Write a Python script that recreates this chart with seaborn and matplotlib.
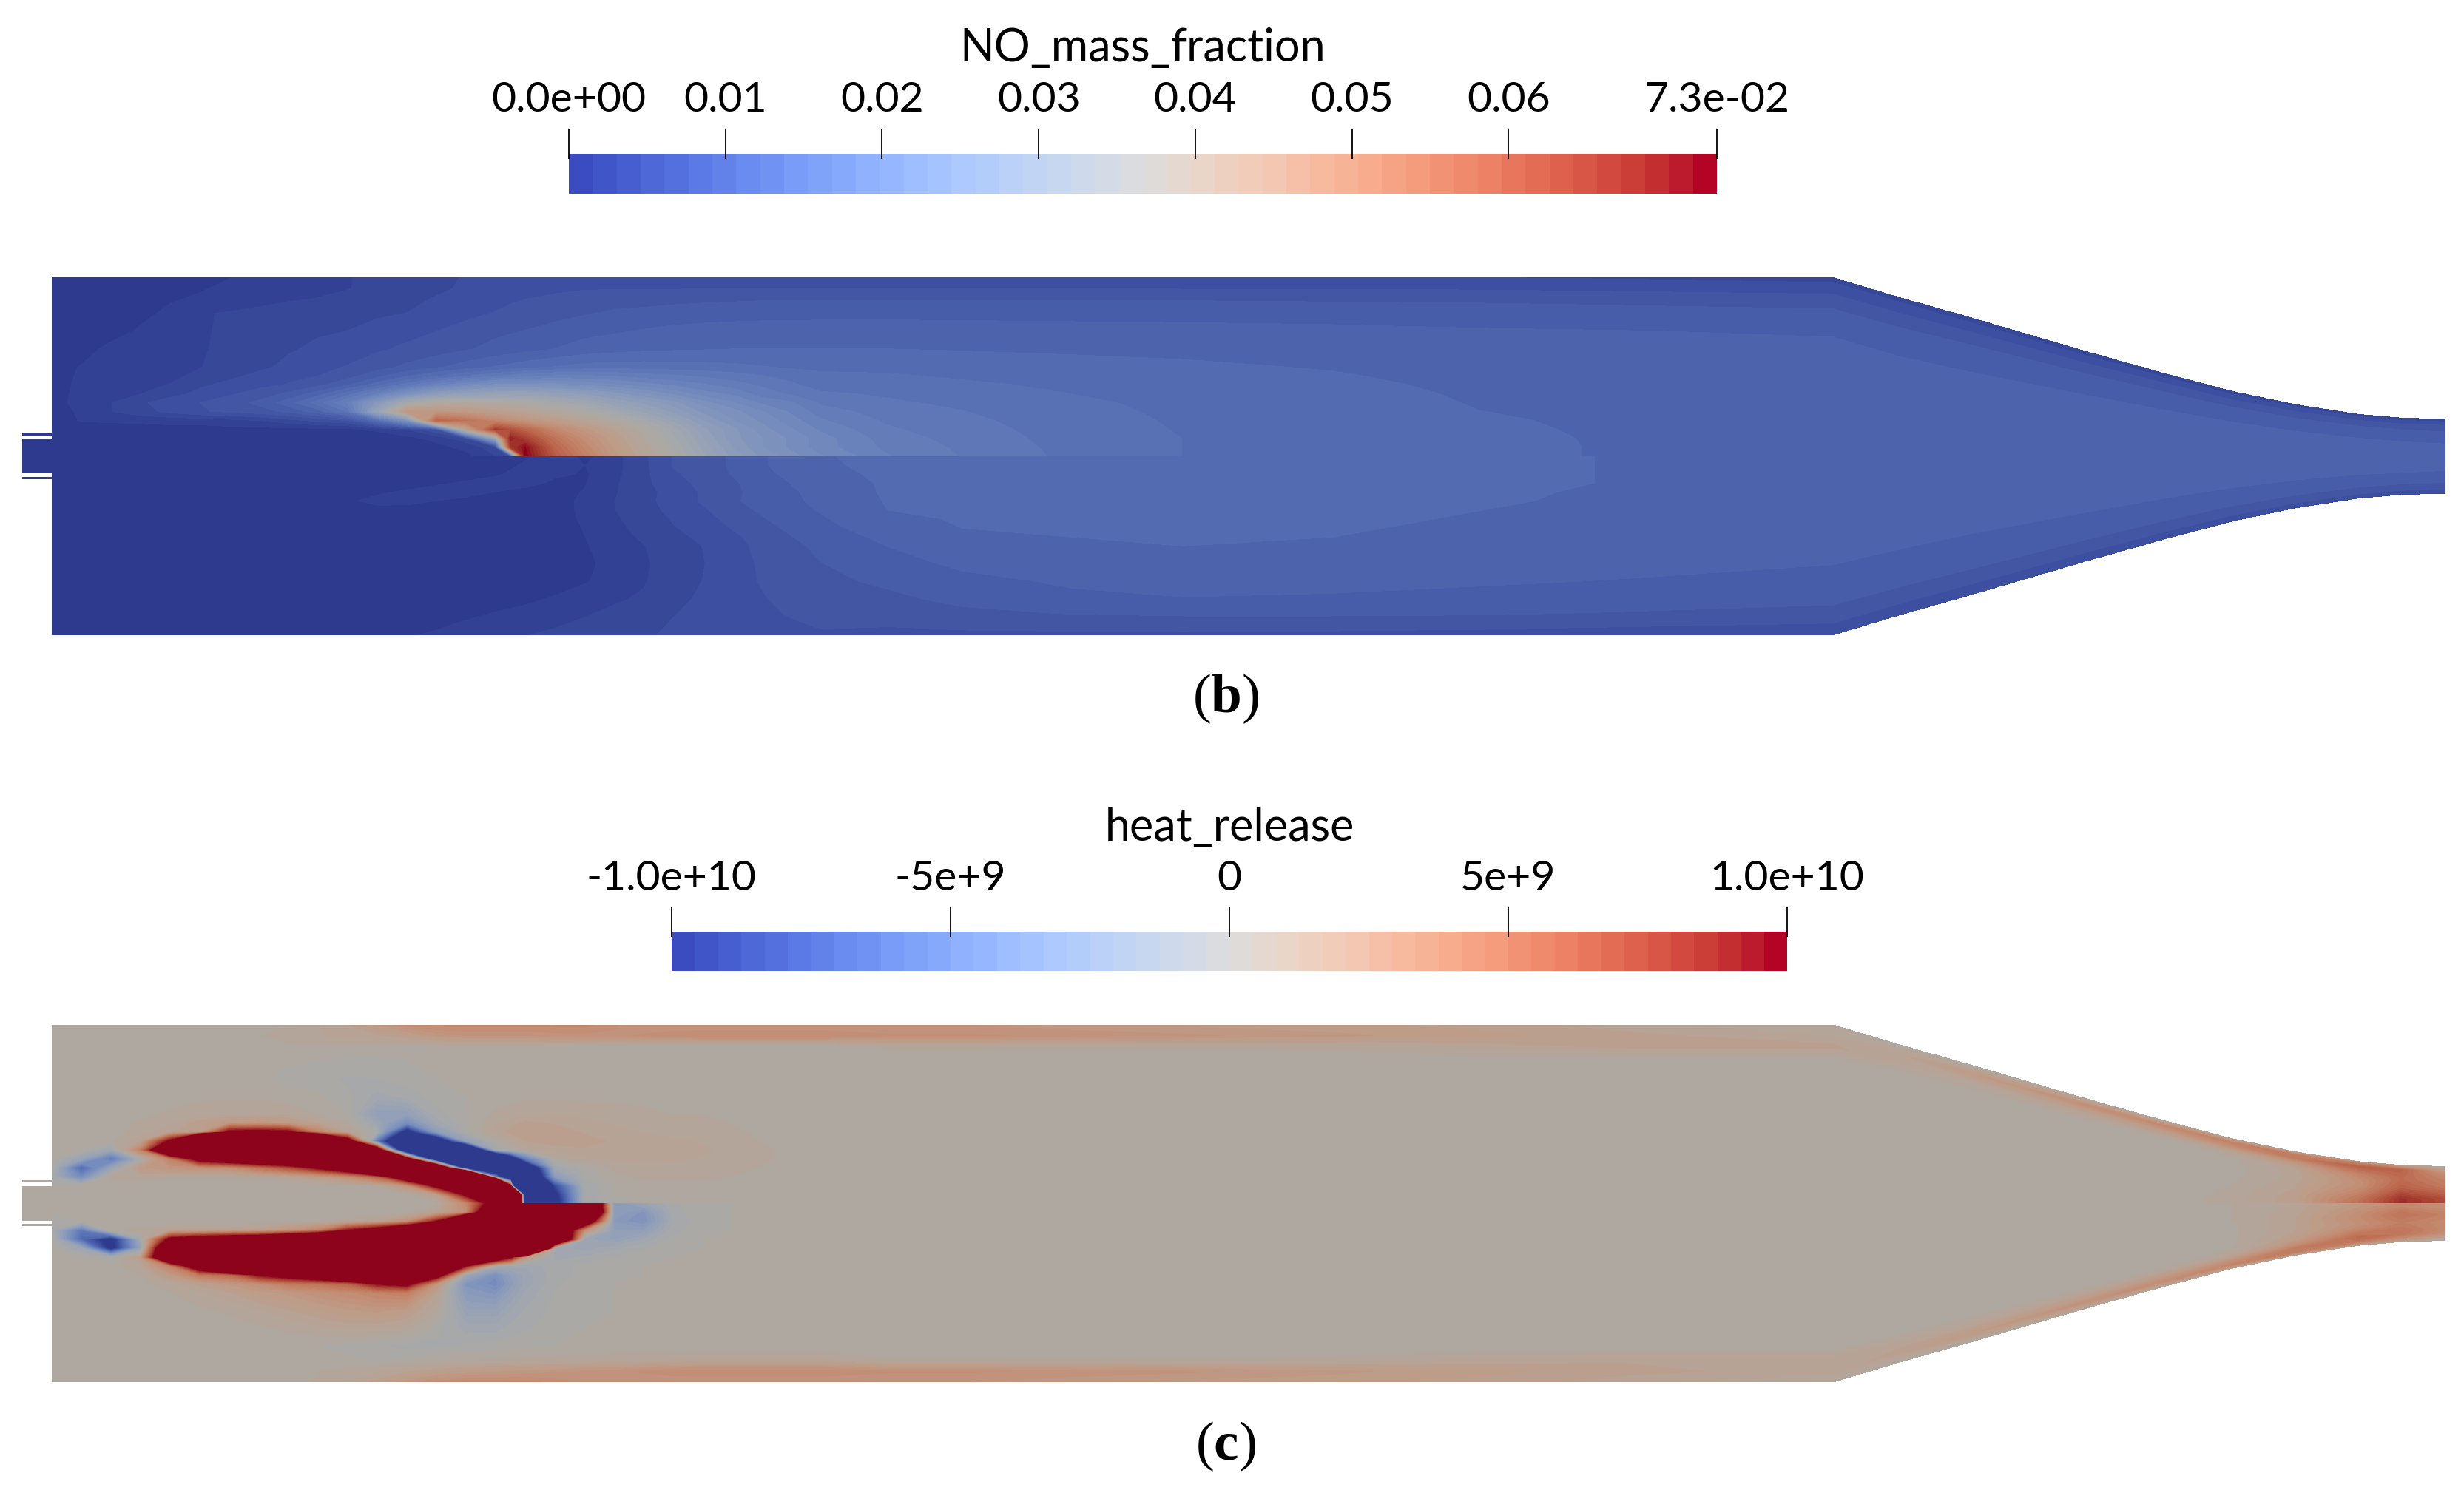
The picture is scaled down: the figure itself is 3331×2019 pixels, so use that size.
import numpy as np
import matplotlib
matplotlib.use('Agg')
import matplotlib.pyplot as plt
import seaborn as sns
from matplotlib.colors import ListedColormap

# stations along the burner (image pixels) and fraction of local half height
NEAR_X = [70, 110, 150, 190, 230, 270, 310, 350, 390, 430, 470, 510, 550, 590,
          630, 670, 690, 710, 750, 790, 830, 870, 910, 950, 990, 1030, 1070, 1110]
FAR_X = [1200, 1300, 1450, 1600, 1800, 2000, 2200, 2478, 2570, 2662, 2820, 2921,
         3015, 3102, 3188, 3246, 3305]
ETA = [0, .05, .10, .15, .20, .25, .30, .35, .40, .45, .50, .60, .70, .80, .88, .94, 1.0]

# wall half height
WALL_X = [70, 2478, 2570, 2662, 2820, 2921, 3015, 3102, 3188, 3246, 3305]
WALL_H = [241.5, 241.5, 214, 188, 141.7, 113.3, 88.3, 70, 56.7, 51.7, 50]

# NO mass fraction x 1e3, upper half, centre line to wall
NO_TOP_NEAR = [
    [0,0,0,0,0,0,0,0,0,0,0,0,0,0,1,3,5,73,60,52,45,40,36,31,27,24,22,20],
    [0,0,0,0,0,0,0,0,0,0,0,0,0,1,2,4,66,72,58,50,44,39,35,30,26,23,21,19],
    [0,0,0,0,0,0,0,0,0,0,0,0,1,2,4,30,70,65,55,48,43,38,34,29,25,23,21,19],
    [0,1,1,1,1,1,1,1,1,1,1,2,3,6,40,66,62,58,50,45,41,37,33,28,25,22,20,18],
    [1,1.6,1.7,1.8,2,2,2.5,3,4,5,6,12,22,58,55,50,48,46,43,40,37,34,30,26,23,21,19,17],
    [1,1.7,3,4,5,6,6.3,7,8,10,14,30,45,45,44,42,41,40,38,36,33,30,27,24,22,20,18,16],
    [1,2,3,4.3,5.4,6.1,7,8,10,13,17,25,34,37,38,37,36.5,36,34,32,29,27,25,22,20,18,17,15],
    [1,1.9,2.5,3,4,5,5.9,6.7,8,10,13,17,22,26,28,29,29,29,28,27,25,23,21,19,18,16,15,14],
    [1,1.8,2.3,2.8,3.1,4.3,5,5.7,6.2,7.2,9,11.5,14.5,17.5,20,21.7,22,22,22,21,20,19,18,17,16,15,14,13],
    [1,1.7,2.1,2.4,2.8,3.3,4.2,5,5.8,6.1,7,8.7,10.5,12,13.6,15,15.7,16.3,17,17,16.7,16,15.5,15,14.4,13.8,13.2,12.6],
    [1,1.6,2,2.3,2.7,3,3.6,4.2,5,5.7,6.2,7,8,8.9,9.9,10.8,11.2,11.6,12.3,12.8,13,13,12.9,12.8,12.6,12.3,12,11.8],
    [.5,1,1.9,2.2,2.5,2.9,3.4,3.9,4.4,4.9,5.4,5.9,6.4,6.9,7.5,8.1,8.4,8.7,9.2,9.8,10.1,10.4,10.5,10.6,10.7,10.7,10.7,10.7],
    [0,.3,1,1.7,2.3,2.8,3.4,3.8,4.1,4.4,4.6,5,5.6,6.1,6.7,7.3,7.5,7.7,8.2,8.7,9,9.3,9.6,9.7,9.8,9.8,9.8,9.8],
    [0,.2,.6,1.2,1.8,2.9,3.2,3.5,3.8,4,4.2,4.4,4.6,5.2,5.7,6.2,6.5,6.7,7.1,7.5,7.9,8.1,8.3,8.5,8.6,8.7,8.7,8.8],
    [0,0,.6,1,1.4,1.7,2.1,2.5,2.9,3.1,3.4,3.8,4.2,4.7,5.1,5.6,5.9,6.1,6.4,6.7,6.9,7,7.2,7.3,7.4,7.5,7.5,7.5],
    [0,0,.4,.8,1.1,1.4,1.8,2.2,2.5,2.8,3,3.4,3.9,4.3,4.8,5.2,5.4,5.5,5.8,6,6,6,6,6.1,6.1,6.1,6.1,6.1],
    [0,0,0,.5,.8,1.1,1.5,2,2.3,2.7,3,3.3,3.7,4.2,4.7,4.9,5,5,5,5,5,5,5,5,5,5,5,5],
]
NO_TOP_FAR = [
    [16.9,15.2,13.3,12.2,11.6,11,10.55,10.2,10.1,10,10,10,10,10,10,9.8,9.6],
    [16.4,15,13.2,12.2,11.6,11,10.55,10.2,10.1,10,10,10,10,10,10,9.8,9.6],
    [16,14.7,13.1,12.2,11.6,10.95,10.55,10.2,10.1,10,10,10,10,10,10,9.8,9.6],
    [15.5,14.4,13,12.1,11.5,10.9,10.5,10.2,10.1,10,10,10,10,10,10,9.8,9.5],
    [15,14.1,12.9,12,11.5,10.8,10.5,10.2,10.1,10,10,10,10,10,9.9,9.7,9.5],
    [14.5,13.8,12.7,11.9,11.4,10.7,10.5,10.1,10,10,10,10,10,9.9,9.8,9.6,9.4],
    [14,13.4,12.5,11.8,11.3,10.6,10.4,10.1,10,10,10,10,9.9,9.8,9.7,9.5,9.3],
    [13.5,13,12.2,11.6,11.2,10.5,10.3,10,10,10,10,10,9.8,9.7,9.5,9.3,9.1],
    [13,12.5,11.9,11.3,11,10.4,10.2,10,9.9,9.9,9.8,9.8,9.7,9.5,9.3,9.1,8.9],
    [12.4,12,11.5,11.1,10.8,10.3,10.1,9.8,9.8,9.7,9.7,9.6,9.5,9.3,9.1,8.9,8.7],
    [11.8,11.5,11.1,10.9,10.6,10.2,10,9.7,9.6,9.5,9.5,9.4,9.3,9.1,8.9,8.7,8.5],
    [10.7,10.6,10.5,10.4,10.2,10,9.8,9.5,9.3,9.2,9.1,9,8.8,8.6,8.4,8.2,8],
    [9.8,9.7,9.7,9.6,9.5,9.3,9.2,9,8.8,8.7,8.5,8.4,8.2,8,7.8,7.6,7.4],
    [8.8,8.8,8.7,8.7,8.6,8.5,8.3,8,7.8,7.7,7.5,7.4,7.2,7,6.9,6.8,6.6],
    [7.5,7.5,7.5,7.5,7.4,7.3,7.1,6.8,6.6,6.5,6.3,6.2,6,5.9,5.8,5.7,5.5],
    [6.1,6.1,6.1,6,6,5.9,5.7,5.3,5.2,5.1,5,4.9,4.8,4.8,4.7,4.6,4.5],
    [5,5,4.9,4.8,4.7,4.6,4.4,4,4,3.9,3.8,3.8,3.7,3.7,3.6,3.6,3.5],
]
# NO mass fraction x 1e3, lower half
NO_BOT_NEAR = [
    [0,0,0,0,0,0,0,0,0,0,0,0,0,0,0,0,.5,1,3,1,2.5,4.3,6.2,7,7.8,9,9.8,10.6],
    [0,0,0,0,0,0,0,0,0,0,0,0,0,0,0,0,1,2,3,1.5,2.5,4.2,6.2,7,7.8,9,9.8,10.5],
    [0,0,0,0,0,0,0,0,0,0,0,0,0,0,0,1,2,3,2,1.3,2.6,4.2,5.8,7,7.7,8.8,9.5,10.2],
    [0,0,0,0,0,0,0,0,0,0,0,0,0,1,2,3,2.8,2.5,1,1.4,2.8,4.2,5.5,6.5,7.4,8.4,9.2,9.9],
    [0,0,0,0,0,0,0,0,0,0,0,1,2,3,2.5,1.5,1,.5,1,1.6,2.9,4,5.2,6.3,7.3,8.2,9,9.6],
    [0,0,0,0,0,0,0,0,0,.5,1,2.5,2.5,1.5,.8,.3,.3,.3,1,1.8,3,4.1,5.2,6.3,7.4,8.2,8.9,9.5],
    [0,0,0,0,0,0,0,0,.5,1,.8,.5,.3,.2,.2,.2,.2,.3,1,1.8,3,4,5,5.9,7,7.9,8.7,9.3],
    [0,0,0,0,0,0,0,0,0,0,0,0,0,0,0,0,0,0,1,1.7,2.8,3.8,4.7,5.4,6.7,7.5,8.3,9],
    [0,0,0,0,0,0,0,0,0,0,0,0,0,0,0,0,0,0,.9,1.6,2.6,3.6,4.5,5.1,6.2,7.1,8,8.7],
    [0,0,0,0,0,0,0,0,0,0,0,0,0,0,0,0,0,0,.8,1.5,2.4,3.3,4.3,4.8,5.8,6.7,7.6,8.3],
    [0,0,0,0,0,0,0,0,0,0,0,0,0,0,0,0,0,0,.7,1.4,2.2,3,4.1,4.6,5.6,6.5,7.3,8],
    [0,0,0,0,0,0,0,0,0,0,0,0,0,0,0,0,0,0,.6,1.2,2,2.8,3.8,4.5,5.5,6.3,7,7.6],
    [0,0,0,0,0,0,0,0,0,0,0,0,0,0,0,0,.1,.2,.8,1.4,2.1,2.9,4,4.6,5.6,6.2,6.8,7.3],
    [0,0,0,0,0,0,0,0,0,0,0,0,0,0,.5,.9,1,1.2,1.7,2.2,2.8,3.3,4.2,4.8,5.5,6,6.5,7],
    [0,0,0,0,0,0,0,0,0,0,0,0,.4,.8,1.2,1.6,1.8,2,2.4,2.9,3.4,3.8,4.5,5,5.5,5.9,6.2,6.6],
    [0,0,0,0,0,0,0,0,0,0,0,.6,1,1.3,1.7,2,2.2,2.5,2.9,3.3,3.7,4.1,4.7,5.1,5.5,5.8,6,6.2],
    [0,0,0,0,0,0,0,0,0,0,.5,1,1.4,1.7,2.1,2.5,2.8,3,3.3,3.7,4,4.4,4.8,5.1,5.4,5.6,5.8,6],
]
NO_BOT_FAR = [
    [11,11.3,11.3,11.3,11.2,11,10.6,10.3,10.2,10.2,10.2,10.1,10.1,10.1,10.1,10,10],
    [11,11.3,11.3,11.3,11.2,11,10.6,10.3,10.2,10.2,10.2,10.1,10.1,10.1,10.1,10,10],
    [11,11.3,11.3,11.3,11.2,11,10.6,10.3,10.2,10.2,10.2,10.1,10.1,10.1,10.1,10,10],
    [10.9,11.2,11.3,11.3,11.2,11,10.6,10.3,10.2,10.2,10.1,10.1,10.1,10.1,10,10,9.9],
    [10.9,11.1,11.2,11.2,11.1,10.9,10.5,10.3,10.2,10.1,10.1,10.1,10,10,10,9.9,9.8],
    [10.8,11,11.1,11.2,11.1,10.8,10.5,10.2,10.1,10.1,10,10,10,9.9,9.8,9.8,9.7],
    [10.7,10.9,11,11.1,11,10.7,10.4,10.2,10.1,10,10,9.9,9.9,9.8,9.7,9.7,9.5],
    [10.4,10.8,10.9,11,10.9,10.6,10.3,10.1,10,10,9.9,9.8,9.7,9.6,9.5,9.5,9.3],
    [10,10.7,10.8,10.9,10.8,10.5,10.2,10,9.9,9.8,9.7,9.6,9.5,9.4,9.3,9.3,9.1],
    [9.6,10.5,10.7,10.8,10.7,10.3,10,9.8,9.7,9.6,9.5,9.4,9.3,9.2,9.1,9,8.9],
    [9.2,10.2,10.5,10.7,10.5,10.1,9.9,9.6,9.5,9.4,9.3,9.2,9.1,9,8.9,8.8,8.7],
    [8.5,9.5,9.9,10.1,10,9.8,9.5,9.2,9.1,9,8.9,8.8,8.7,8.5,8.4,8.3,8.2],
    [7.9,8.7,9.4,9.6,9.5,9.3,9.1,8.7,8.6,8.5,8.3,8.2,8.1,8,7.9,7.8,7.7],
    [7.3,8,8.8,9.1,9,8.8,8.5,8,7.9,7.8,7.6,7.5,7.4,7.3,7.2,7.1,7],
    [6.7,7.3,7.7,7.9,7.9,7.8,7.5,7.1,7,6.9,6.8,6.7,6.6,6.5,6.4,6.3,6.2],
    [6.3,6.6,6.7,6.8,6.8,6.7,6.4,6,5.9,5.8,5.7,5.6,5.6,5.5,5.4,5.4,5.3],
    [5.5,5.7,5.8,5.8,5.7,5.5,5.2,4.9,4.8,4.7,4.6,4.6,4.5,4.4,4.4,4.3,4.3],
]

# heat release x 1e-8, upper half (values past +-100 saturate)
HR_TOP_NEAR = [
    [0,0,0,0,0,0,0,0,0,0,0,0,0,2,35,130,800,-150,-120,-6,-1,0,0,0,0,0,0,0],
    [0,0,0,0,0,0,0,0,0,0,0,0,2,15,105,200,800,-200,-110,-8,0,2,2,2,2,0,0,0],
    [0,0,0,0,0,0,0,0,0,0,2,5,25,110,200,740,110,-1000,-90,-8,0,3,3,3,3,0,0,0],
    [-8,-45,8,8,5,5,5,5,10,18,30,60,149,200,600,-50,-200,-200,-30,-3,3,5,5,5,4,3,2,1],
    [0,-70,-20,20,25,28,30,50,70,103,150,300,200,258,-150,-200,-200,-170,-12,-2,5,7,7,6,5,4,3,2],
    [0,-20,-60,-5,40,120,145,161,178,200,200,200,137,-180,-200,-280,-150,-60,3,8,9,10,9,8,6,5,3,2],
    [0,0,-15,40,195,200,200,200,200,200,200,150,-200,-300,-233,-10,0,5,10,12,12,11,10,9,7,5,3,2],
    [0,0,3,12,105,400,200,200,200,317,133,-60,-200,-160,-25,0,6,12,15,14,12,10,9,8,6,4,3,2],
    [0,0,2,6,12,15,107,112,105,40,10,-5,-121,-30,-3,10,14,17,15,12,10,8,7,6,5,3,2,1],
    [0,0,2,5,8,15,22,25,20,12,4,-14,-45,-12,-1,8,11,14,12,10,8,7,6,5,4,3,2,1],
    [0,0,1,3,5,7,8,8,7,4,0,-25,-24,-6,0,5,6,8,8,7,6,5,4,4,3,2,1,1],
    [0,0,1,2,2,3,3,3,2,1,-3,-10,-7,-2,0,2,2,3,3,3,3,3,2,2,1,1,0,0],
    [0,0,1,2,3,3,2,1,-2,-3,-5,-4,-2,0,1,1,1,1,1,1,1,1,1,1,0,0,0,0],
    [0,0,0,1,2,3,3,2,1,0,-1,-1,0,0,1,1,1,1,0,0,0,0,0,0,0,0,0,0],
    [0,0,0,0,1,2,3,3,3,3,3,3,3,3,3,3,3,3,3,2,1,1,1,1,1,1,1,1],
    [0,0,0,0,0,0,2,4,6,8,10,12,15,22,25,25,25,25,27,28,28,30,32,33,33,33,33,33],
    [0,0,0,0,0,0,0,2,4,8,12,20,30,35,35,35,35,35,35,35,30,25,25,25,25,25,25,25],
]
HR_TOP_FAR = [
    [0,0,0,0,0,0,0,0,0,0,0,1,6,15,50,85,72],
    [0,0,0,0,0,0,0,0,0,0,0,1,6,15,50,85,72],
    [0,0,0,0,0,0,0,0,0,0,0,1,6,15,48,85,72],
    [0,0,0,0,0,0,0,0,0,0,0,1,5,15,45,82,70],
    [0,0,0,0,0,0,0,0,0,0,0,1,5,14,42,78,66],
    [0,0,0,0,0,0,0,0,0,0,0,1,4,13,38,74,62],
    [0,0,0,0,0,0,0,0,0,0,0,0,4,12,35,70,58],
    [0,0,0,0,0,0,0,0,0,0,0,0,3,12,33,66,54],
    [0,0,0,0,0,0,0,0,0,0,0,0,3,11,31,62,50],
    [0,0,0,0,0,0,0,0,0,0,0,0,2,10,30,60,47],
    [0,0,0,0,0,0,0,0,0,0,0,0,2,10,30,58,45],
    [0,0,0,0,0,0,0,0,0,0,0,0,2,10,32,55,42],
    [0,0,0,0,0,0,0,0,0,0,0,0,3,12,38,55,38],
    [0,0,0,0,0,0,0,0,0,2,3,4,10,25,50,58,30],
    [5,5,5,5,6,10,14,14,8,8,14,20,30,45,60,60,20],
    [30,30,28,26,22,18,14,8,12,20,30,35,40,45,45,35,10],
    [25,25,22,20,18,15,10,4,2,2,5,5,8,10,15,15,5],
]
HR_BOT_NEAR = [
    [0,0,0,0,0,0,0,0,0,0,0,0,0,2,35,130,200,200,200,300,-30,-18,-5,-1,0,0,0,0],
    [0,0,0,0,0,0,0,0,0,0,0,0,2,12,30,200,200,200,200,300,-25,-35,-6,-1,0,0,0,0],
    [-3,0,0,0,0,0,0,1,2,3,6,12,30,95,310,200,200,200,200,160,-30,-38,-8,-2,0,0,0,0],
    [-5,-60,3,6,10,10,12,15,25,40,95,128,174,200,200,200,200,200,200,30,-25,-25,-6,-1,0,0,0,0],
    [0,-70,-110,-10,110,135,150,161,194,236,200,200,200,200,200,200,200,200,237,-15,-22,-12,-3,0,0,0,0,0],
    [0,-15,-110,-20,200,200,200,200,200,200,200,200,200,200,200,200,200,600,-10,-15,-10,-5,-1,0,0,0,0,0],
    [0,0,-5,15,206,200,200,200,200,200,200,200,200,200,200,160,105,20,-10,-8,-4,-1,0,0,0,0,0,0],
    [0,0,2,8,40,147,263,200,200,200,200,200,200,200,95,-5,-10,-12,-6,-3,-1,0,0,0,0,0,0,0],
    [0,0,1,4,20,45,55,100,121,150,191,200,200,129,-15,-40,-25,-15,-6,-3,-1,0,0,0,0,0,0,0],
    [0,0,1,3,6,14,22,30,45,50,60,98,110,25,-35,-45,-28,-15,-5,-2,0,0,0,0,0,0,0,0],
    [0,0,1,2,4,8,12,18,22,28,32,38,42,12,-30,-35,-22,-12,-4,-1,0,0,0,0,0,0,0,0],
    [0,0,0,1,2,3,5,8,12,16,20,22,18,5,-20,-20,-13,-8,-3,-1,0,0,0,0,0,0,0,0],
    [0,0,0,0,1,2,2,3,5,7,9,9,6,-3,-10,-10,-7,-5,-2,0,0,0,0,0,0,0,0,0],
    [0,0,0,0,0,1,1,1,1,0,-2,-4,-6,-5,-3,-2,-1,-1,0,0,0,0,0,0,0,0,0,0],
    [0,0,0,0,0,0,0,1,2,2,1,0,1,3,4,5,5,6,6,7,8,8,9,10,10,10,10,10],
    [0,0,0,0,0,0,0,1,3,4,6,8,12,15,18,20,21,22,24,26,28,30,32,33,33,33,33,33],
    [0,0,0,0,0,0,0,0,2,5,8,14,22,30,35,35,35,35,32,28,25,25,25,25,25,25,25,25],
]
HR_BOT_FAR = [
    [0,0,0,0,0,0,0,0,0,0,0,1,4,8,22,35,28],
    [0,0,0,0,0,0,0,0,0,0,0,1,4,9,24,36,29],
    [0,0,0,0,0,0,0,0,0,0,0,1,4,10,25,38,30],
    [0,0,0,0,0,0,0,0,0,0,0,1,4,10,27,42,33],
    [0,0,0,0,0,0,0,0,0,0,0,1,4,11,29,46,36],
    [0,0,0,0,0,0,0,0,0,0,0,1,4,11,31,48,38],
    [0,0,0,0,0,0,0,0,0,0,0,0,3,12,32,50,40],
    [0,0,0,0,0,0,0,0,0,0,0,0,3,12,32,48,39],
    [0,0,0,0,0,0,0,0,0,0,0,0,3,12,31,46,38],
    [0,0,0,0,0,0,0,0,0,0,0,0,3,12,30,44,36],
    [0,0,0,0,0,0,0,0,0,0,0,0,3,12,30,42,35],
    [0,0,0,0,0,0,0,0,0,0,0,0,3,14,35,45,35],
    [0,0,0,0,0,0,0,0,0,0,0,0,4,18,45,50,35],
    [0,0,0,0,0,0,0,0,0,2,3,5,10,30,55,48,30],
    [5,5,5,5,6,10,12,12,10,10,14,20,28,45,50,35,20],
    [30,30,28,26,22,18,14,10,15,20,28,32,38,45,35,25,10],
    [25,25,22,20,18,15,10,4,2,2,5,5,8,10,10,8,5],
]

NO_TICKS = [0, 10, 20, 30, 40, 50, 60, 73.3]
NO_LABELS = ['0.0e+00', '0.01', '0.02', '0.03', '0.04', '0.05', '0.06', '7.3e-02']
HR_TICKS = [-100, -50, 0, 50, 100]
HR_LABELS = ['-1.0e+10', '-5e+9', '0', '5e+9', '1.0e+10']

N_BANDS = 48
LIGHT = np.array([0.785, 0.765, 0.74])   # the 3D view is darker than the legend bar


def band_colors():
    return np.array(sns.color_palette('coolwarm', as_cmap=True)(np.linspace(0, 1, N_BANDS)))[:, :3]


def draw_half(ax, near, far, centre, sign, vmin, vmax, cmap):
    # grid follows the wall, so thin wall layers stay with the contraction
    x = np.array(NEAR_X + FAR_X, dtype=float)
    eta = np.array(ETA)
    h = np.interp(x, WALL_X, WALL_H)
    X, E = np.meshgrid(x, eta)
    Y = centre + sign * E * h
    values = np.hstack([np.array(near, dtype=float), np.array(far, dtype=float)])
    # nudge so that an exact zero sits in the warm grey band, as in the bar
    levels = np.linspace(vmin, vmax, N_BANDS + 1) - 1e-6
    ax.contourf(X, Y, values, levels=levels, cmap=cmap, extend='both', antialiased=True)
    ax.contourf(X, Y, values, levels=levels, cmap=cmap, extend='both', antialiased=False)


def draw_panel(ax, top, bottom, centre, vmin, vmax):
    colors = band_colors() * LIGHT
    cmap = ListedColormap(colors)
    cmap.set_under(colors[0])
    cmap.set_over(colors[-1])
    draw_half(ax, top[0], top[1], centre, -1, vmin, vmax, cmap)
    draw_half(ax, bottom[0], bottom[1], centre, 1, vmin, vmax, cmap)

    # inlet stub and its two thin walls
    stub = colors[0] if vmin == 0 else colors[N_BANDS // 2]
    ax.fill_between([30, 71], centre - 23.5, centre + 23.5, color=stub, lw=0)
    ax.fill_between([30, 71], centre - 31, centre - 28, color=stub, lw=0)
    ax.fill_between([30, 71], centre + 28, centre + 31, color=stub, lw=0)


def draw_legend(fig, box, title, ticks, labels, vmin, vmax):
    left, top, right, bottom = box
    W, H = 3331, 2019
    cax = fig.add_axes([left / W, 1 - bottom / H, (right - left) / W, (bottom - top) / H])
    edges = np.linspace(vmin, vmax, N_BANDS + 1)
    mids = (edges[:-1] + edges[1:]) / 2
    sns.heatmap(np.array([mids]), ax=cax, cmap=ListedColormap(band_colors()), vmin=vmin, vmax=vmax,
                cbar=False, xticklabels=False, yticklabels=False)
    pos = [(t - vmin) / (vmax - vmin) * N_BANDS for t in ticks]
    cax.vlines(pos, -0.62, 0.13, color='black', lw=1.3, clip_on=False)
    for p, lab in zip(pos, labels):
        cax.text(p, -1.06, lab, ha='center', va='baseline', fontsize=41, color='black', clip_on=False)
    cax.text(N_BANDS / 2, -2.32, title, ha='center', va='baseline', fontsize=44, color='black', clip_on=False)


sns.set_theme(style='white')
plt.rcParams['font.family'] = ['Lato', 'DejaVu Sans']
plt.rcParams['mathtext.fontset'] = 'custom'
plt.rcParams['mathtext.bf'] = 'Liberation Serif:bold'

fig = plt.figure(figsize=(33.31, 20.19), dpi=100, facecolor='white')
ax = fig.add_axes([0, 0, 1, 1])
ax.set_xlim(0, 3331)
ax.set_ylim(2019, 0)
ax.axis('off')

draw_panel(ax, (NO_TOP_NEAR, NO_TOP_FAR), (NO_BOT_NEAR, NO_BOT_FAR), 617, 0, 73.3)
draw_panel(ax, (HR_TOP_NEAR, HR_TOP_FAR), (HR_BOT_NEAR, HR_BOT_FAR), 1627.5, -100, 100)

draw_legend(fig, (769, 208, 2321, 262), 'NO_mass_fraction', NO_TICKS, NO_LABELS, 0, 73.3)
draw_legend(fig, (908, 1260, 2416, 1313), 'heat_release', HR_TICKS, HR_LABELS, -100, 100)

ax.text(1657, 945, r'($\mathbf{b}$)', ha='center', va='center', fontsize=54,
        family='Liberation Serif', color='black')
ax.text(1657, 1956, r'($\mathbf{c}$)', ha='center', va='center', fontsize=54,
        family='Liberation Serif', color='black')

fig.savefig('out.png', dpi=100)
